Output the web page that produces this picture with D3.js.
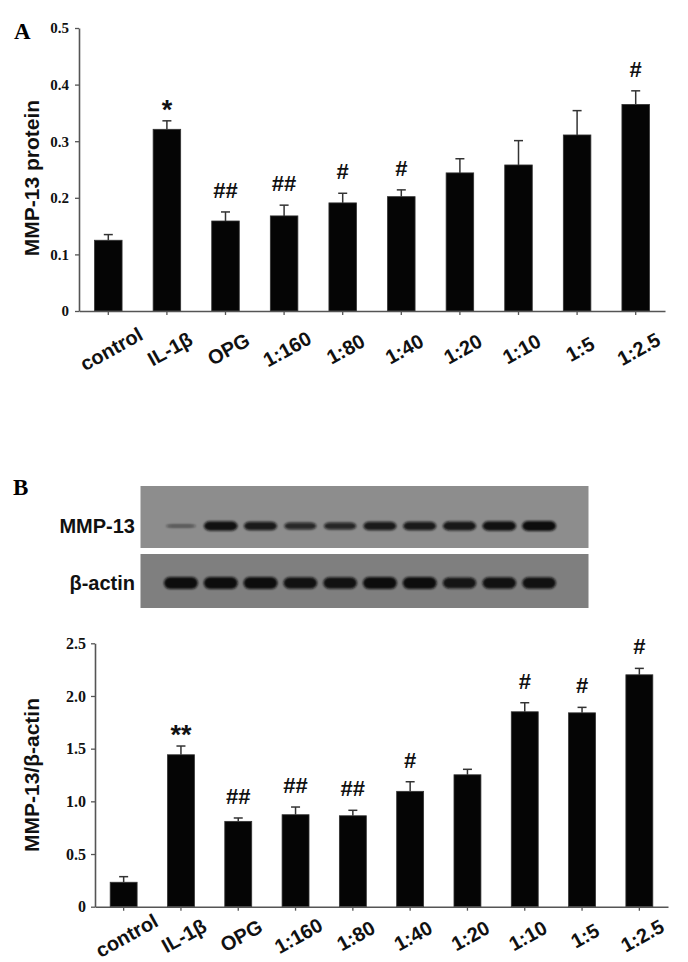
<!DOCTYPE html>
<html>
<head>
<meta charset="utf-8">
<script src="https://cdn.jsdelivr.net/npm/d3@7"></script>
<style>
  body { margin: 0; background: #fff; }
  svg { display: block; }
</style>
</head>
<body>
<div id="chart"></div>
<script>
// data
let groups = ["control", "IL-1β", "OPG", "1:160", "1:80", "1:40", "1:20", "1:10", "1:5", "1:2.5"];

// panel A - MMP-13 protein
let proteinVals = [0.125, 0.321, 0.159, 0.168, 0.191, 0.202, 0.244, 0.258, 0.311, 0.365];
let proteinErr = [0.010, 0.015, 0.016, 0.019, 0.017, 0.012, 0.025, 0.043, 0.043, 0.024];
let proteinMarks = ["", "*", "##", "##", "#", "#", "", "", "", "#"];
let proteinTicks = [0, 0.1, 0.2, 0.3, 0.4, 0.5];

// panel B - MMP-13/β-actin
let ratioVals = [0.232, 1.442, 0.810, 0.873, 0.863, 1.095, 1.252, 1.850, 1.840, 2.201];
let ratioErr = [0.053, 0.083, 0.032, 0.073, 0.052, 0.091, 0.052, 0.086, 0.052, 0.061];
let ratioMarks = ["", "**", "##", "##", "##", "#", "", "#", "#", "#"];
let ratioTicks = [0, 0.5, 1.0, 1.5, 2.0, 2.5];

// western blot band strength per lane
let mmpBands = [0.3, 0.95, 0.85, 0.7, 0.72, 0.85, 0.85, 0.88, 0.95, 1.0];
let actinBands = [1.0, 1.0, 1.0, 0.95, 0.95, 1.0, 1.0, 0.9, 0.95, 0.95];

let serif = "'Liberation Serif', 'Times New Roman', serif";
let sans = "'Liberation Sans', Arial, sans-serif";

let svg = d3.select("#chart")
  .append("svg")
  .attr("width", 688)
  .attr("height", 962);

let defs = svg.append("defs");
defs.append("filter").attr("id", "blur")
  .attr("x", "-30%").attr("y", "-80%").attr("width", "160%").attr("height", "260%")
  .append("feGaussianBlur").attr("stdDeviation", 1.3);

// panel letters
svg.append("text").attr("x", 14).attr("y", 39).text("A")
  .style("font-family", serif).style("font-weight", "bold").style("font-size", "23px");
svg.append("text").attr("x", 13).attr("y", 495).text("B")
  .style("font-family", serif).style("font-weight", "bold").style("font-size", "23px");

drawBars({
  left: 79, right: 665, top: 28, bottom: 311,
  max: 0.5, ticks: proteinTicks, vals: proteinVals, errs: proteinErr, marks: proteinMarks,
  title: "MMP-13 protein", titleY: 178, labelOff: 38, tickPad: 6, tickFont: 15
});

drawBlot();

drawBars({
  left: 95, right: 668, top: 643.3, bottom: 906.7,
  max: 2.5, ticks: ratioTicks, vals: ratioVals, errs: ratioErr, marks: ratioMarks,
  title: "MMP-13/β-actin", titleY: 775, labelOff: 29, tickPad: 5, tickFont: 16
});

/**
 * Draw one bar panel with error bars and significance marks.
 */
function drawBars(p) {
  let x = d3.scaleBand().domain(groups)
    .range([p.left, p.right])
    .paddingInner(0.53)
    .paddingOuter(0.265);
  let y = d3.scaleLinear().domain([0, p.max]).range([p.bottom, p.top]);
  let g = svg.append("g");

  // bars
  g.append("g").selectAll("rect").data(groups).join("rect")
    .attr("x", d => x(d))
    .attr("y", (d, i) => y(p.vals[i]))
    .attr("width", x.bandwidth())
    .attr("height", (d, i) => p.bottom - y(p.vals[i]))
    .attr("fill", "#050505")
    .attr("stroke", "#333")
    .attr("stroke-width", 0.8);

  // error bars (upper only)
  let eg = g.append("g").attr("stroke", "#333").attr("stroke-width", 1.5);
  groups.forEach((d, i) => {
    let cx = x(d) + x.bandwidth() / 2;
    let yt = y(p.vals[i] + p.errs[i]);
    eg.append("line").attr("x1", cx).attr("x2", cx).attr("y1", y(p.vals[i])).attr("y2", yt);
    eg.append("line").attr("x1", cx - 4.5).attr("x2", cx + 4.5).attr("y1", yt).attr("y2", yt);
  });

  // significance marks
  g.append("g").selectAll("text").data(groups).join("text")
    .attr("x", d => x(d) + x.bandwidth() / 2)
    .attr("y", (d, i) => y(p.vals[i] + p.errs[i]) - (p.marks[i].startsWith("*") ? 2 : 14))
    .text((d, i) => p.marks[i])
    .style("text-anchor", "middle")
    .style("font-family", sans)
    .style("font-weight", "bold")
    .style("font-size", (d, i) => p.marks[i].startsWith("*") ? "27px" : "22px")
    .style("fill", "#111");

  // y axis
  let ya = g.append("g")
    .attr("transform", "translate(" + p.left + ",0)")
    .call(d3.axisLeft(y)
      .tickValues(p.ticks)
      .tickSize(4)
      .tickSizeOuter(0)
      .tickPadding(p.tickPad)
      .tickFormat(d => d === 0 ? "0" : d3.format(".1f")(d)));
  ya.selectAll("text")
    .style("font-family", serif)
    .style("font-weight", "bold")
    .style("font-size", p.tickFont + "px")
    .style("fill", "#111");

  // x axis
  let xa = g.append("g")
    .attr("transform", "translate(0," + p.bottom + ")")
    .call(d3.axisBottom(x).tickSize(4).tickSizeOuter(0));
  xa.selectAll("text").remove();

  [ya, xa].forEach(a => {
    a.select(".domain").attr("stroke", "#555").attr("stroke-width", 1.6);
    a.selectAll(".tick line").attr("stroke", "#555").attr("stroke-width", 1.3);
  });

  // rotated category labels
  g.append("g").selectAll("text").data(groups).join("text")
    .attr("transform", d => "translate(" + (x(d) + x.bandwidth() / 2 + 3) + "," + (p.bottom + p.labelOff) + ") rotate(-29)")
    .attr("dy", "0.35em")
    .text(d => d)
    .style("text-anchor", "middle")
    .style("font-family", sans)
    .style("font-weight", "bold")
    .style("font-size", "20px")
    .style("fill", "#111");

  // axis title
  g.append("text")
    .attr("transform", "translate(32," + p.titleY + ") rotate(-90)")
    .attr("dy", "0.35em")
    .text(p.title)
    .style("text-anchor", "middle")
    .style("font-family", sans)
    .style("font-weight", "bold")
    .style("font-size", "21px")
    .style("fill", "#111");
}

/**
 * Draw the western blot strips for panel B.
 */
function drawBlot() {
  let lane = d3.scaleBand().domain(groups).range([161, 559]);
  let rows = [
    { name: "MMP-13", y: 486, h: 62, fill: "#8d8d8d", bands: mmpBands, by: 526, bh: 10 },
    { name: "β-actin", y: 554, h: 54, fill: "#7f7f7f", bands: actinBands, by: 583, bh: 12 }
  ];
  let bg = svg.append("g");

  rows.forEach(r => {
    bg.append("rect")
      .attr("x", 140.5).attr("y", r.y)
      .attr("width", 448).attr("height", r.h)
      .attr("fill", r.fill);

    bg.append("g").attr("filter", "url(#blur)")
      .selectAll("rect").data(groups).join("rect")
      .attr("x", (d, i) => lane(d) + lane.bandwidth() / 2 - (14 + 3 * r.bands[i]))
      .attr("y", (d, i) => r.by - r.bh * r.bands[i] / 2)
      .attr("width", (d, i) => 2 * (14 + 3 * r.bands[i]))
      .attr("height", (d, i) => r.bh * r.bands[i])
      .attr("rx", 6)
      .attr("fill", "#101010")
      .attr("opacity", (d, i) => 0.35 + 0.65 * r.bands[i]);

    bg.append("text")
      .attr("x", 135).attr("y", r.by)
      .attr("dy", "0.35em")
      .text(r.name)
      .style("text-anchor", "end")
      .style("font-family", sans)
      .style("font-weight", "bold")
      .style("font-size", "20px")
      .style("fill", "#111");
  });
}
</script>
</body>
</html>
